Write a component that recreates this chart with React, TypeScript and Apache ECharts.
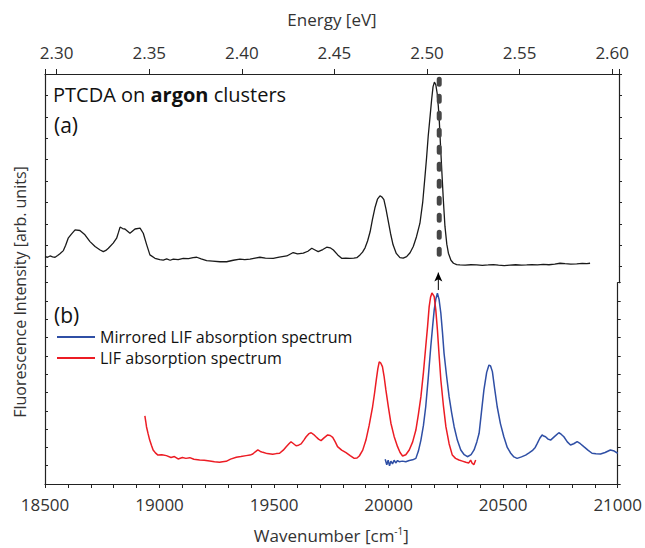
import React, { useEffect, useRef } from "react";
import * as echarts from "echarts";

const FONT = "Open Sans";
const EV_PER_WN = 1.23984e-4;
const WN_MIN = 18500;
const WN_MAX = 21000;

// (a) fluorescence spectrum (wavenumber, arb. units)
const fluorescence: number[][] = [
  [18500,0.47],[18511,0.44],[18522,0.50],[18533,0.46],[18544,0.44],[18555,0.52],[18565,0.60],[18580,0.75],[18590,1.0],[18601,1.33],
  [18615,1.52],[18631,1.72],[18652,1.69],[18674,1.49],[18696,1.17],[18718,0.94],[18740,0.78],[18754,0.70],[18765,0.76],[18776,0.86],
  [18797,1.10],[18812,1.33],[18820,1.6],[18827,1.85],[18838,1.78],[18848,1.76],[18870,1.56],[18892,1.76],[18914,1.80],[18928,1.56],
  [18943,1.02],[18957,0.55],[18979,0.39],[19000,0.33],[19015,0.31],[19030,0.36],[19045,0.30],[19059,0.35],[19080,0.33],[19102,0.39],
  [19125,0.38],[19145,0.42],[19161,0.44],[19180,0.36],[19204,0.28],[19230,0.26],[19262,0.23],[19291,0.23],[19320,0.30],[19349,0.35],
  [19370,0.33],[19393,0.35],[19415,0.40],[19436,0.44],[19460,0.40],[19494,0.39],[19520,0.45],[19553,0.50],[19581,0.66],[19600,0.60],
  [19625,0.63],[19645,0.72],[19662,0.86],[19676,0.78],[19690,0.70],[19710,0.80],[19727,0.91],[19742,0.88],[19756,0.78],[19775,0.55],
  [19792,0.39],[19810,0.40],[19828,0.39],[19845,0.40],[19858,0.42],[19872,0.55],[19883,0.68],[19894,0.88],[19905,1.2],[19916,1.63],
  [19926,2.2],[19937,2.75],[19948,3.15],[19959,3.31],[19968,3.25],[19976,3.13],[19985,2.7],[19994,2.19],[20005,1.55],[20016,1.02],
  [20030,0.62],[20046,0.42],[20060,0.40],[20075,0.47],[20090,0.65],[20104,0.94],[20118,1.4],[20133,2.03],[20145,3.0],[20155,4.22],
  [20162,5.1],[20169,6.09],[20177,7.0],[20184,7.81],[20190,8.4],[20196,8.62],[20202,8.5],[20208,8.1],[20213,7.5],[20217,6.88],
  [20222,5.8],[20228,4.53],[20235,3.1],[20242,1.88],[20250,1.05],[20257,0.63],[20268,0.30],[20279,0.16],[20293,0.10],[20307,0.08],
  [20330,0.07],[20355,0.09],[20380,0.08],[20405,0.06],[20430,0.08],[20453,0.10],[20475,0.07],[20500,0.05],[20525,0.07],[20550,0.09],
  [20575,0.07],[20598,0.08],[20620,0.10],[20645,0.08],[20670,0.11],[20695,0.09],[20720,0.12],[20743,0.16],[20765,0.14],[20790,0.12],
  [20816,0.13],[20840,0.15],[20860,0.14],[20874,0.16],
];

// (b) mirrored LIF absorption spectrum
const mirroredLIF: number[][] = [
  [19985,1.35],[19992,1.05],[19998,1.3],[20004,1.0],[20010,1.25],[20017,1.1],[20024,1.3],[20031,1.15],[20039,1.28],[20046,1.22],
  [20060,1.25],[20075,1.22],[20090,1.28],[20105,1.32],[20119,1.40],[20130,1.8],[20141,2.40],[20152,3.2],[20162,4.22],[20173,5.8],
  [20184,7.50],[20192,8.6],[20199,9.51],[20206,10.1],[20213,10.42],[20220,10.1],[20228,9.33],[20235,8.3],[20242,7.14],[20253,5.9],
  [20264,4.77],[20275,3.9],[20286,3.13],[20300,2.4],[20315,1.86],[20330,1.6],[20344,1.49],[20360,1.6],[20373,1.86],[20385,2.3],
  [20395,2.77],[20405,3.9],[20416,5.14],[20428,6.1],[20438,6.50],[20445,6.45],[20453,6.14],[20463,5.2],[20474,4.22],[20488,3.3],
  [20503,2.58],[20518,2.0],[20533,1.68],[20547,1.48],[20561,1.40],[20580,1.48],[20598,1.58],[20613,1.70],[20627,1.82],[20640,2.0],
  [20649,2.22],[20660,2.5],[20670,2.68],[20677,2.62],[20685,2.58],[20696,2.45],[20707,2.40],[20725,2.6],[20743,2.80],[20753,2.72],
  [20765,2.58],[20780,2.3],[20794,2.13],[20808,2.2],[20823,2.31],[20837,2.2],[20852,2.04],[20870,1.85],[20888,1.68],[20905,1.65],
  [20925,1.64],[20945,1.72],[20968,1.86],[20985,1.80],[21000,1.68],
];

// (b) LIF absorption spectrum
const lifAbsorption: number[][] = [
  [18936,3.72],[18940,3.40],[18943,3.13],[18950,2.75],[18957,2.40],[18965,2.1],[18972,1.86],[18982,1.70],[18993,1.58],[19010,1.60],
  [19030,1.55],[19050,1.45],[19065,1.50],[19081,1.37],[19100,1.45],[19115,1.40],[19132,1.44],[19150,1.35],[19175,1.31],[19195,1.30],
  [19219,1.26],[19240,1.22],[19262,1.19],[19275,1.22],[19291,1.24],[19310,1.36],[19335,1.46],[19355,1.50],[19378,1.55],[19395,1.58],
  [19407,1.64],[19418,1.76],[19429,1.86],[19440,1.78],[19451,1.73],[19470,1.66],[19494,1.62],[19510,1.66],[19524,1.68],[19540,1.85],
  [19553,2.04],[19565,2.2],[19574,2.31],[19585,2.2],[19596,2.09],[19607,2.12],[19618,2.19],[19630,2.4],[19640,2.58],[19652,2.75],
  [19662,2.80],[19673,2.70],[19683,2.58],[19694,2.45],[19705,2.37],[19718,2.52],[19734,2.68],[19745,2.65],[19756,2.55],[19767,2.3],
  [19777,2.04],[19795,1.85],[19814,1.71],[19832,1.55],[19850,1.40],[19862,1.42],[19872,1.53],[19887,1.85],[19901,2.40],[19915,3.2],
  [19930,4.22],[19939,5.0],[19946,5.68],[19953,6.3],[19959,6.67],[19966,6.6],[19973,6.41],[19980,5.9],[19988,5.14],[19999,4.2],
  [20010,3.32],[20024,2.6],[20039,2.04],[20050,1.72],[20061,1.53],[20075,1.60],[20090,1.86],[20105,2.3],[20119,2.95],[20130,3.8],
  [20141,4.77],[20152,6.1],[20162,7.50],[20170,8.6],[20177,9.69],[20183,10.2],[20189,10.44],[20194,10.35],[20199,10.24],[20206,9.5],
  [20213,8.42],[20220,7.1],[20228,5.68],[20239,4.3],[20250,3.13],[20264,2.2],[20278,1.58],[20292,1.40],[20307,1.31],[20322,1.25],
  [20337,1.19],[20350,1.15],[20358,1.30],[20365,1.13],[20372,1.05],[20380,1.31],
];

// guide line (dashed) in panel (a) and arrow between panels
const guideWn = 20217;
const guideLine: number[][] = [[guideWn, 8.75], [guideWn, 0.17]];
const arrowLine: number[][] = [[guideWn, 10.6], [guideWn, 11.55]];

const SERIES_NAMES = ["Mirrored LIF absorption spectrum", "LIF absorption spectrum"];

export default function App() {
  const ref = useRef<HTMLDivElement>(null);
  useEffect(() => {
    if (!ref.current) return;
    const chart = echarts.init(ref.current, undefined, { renderer: "svg" });
    const axisColor = "#222";
    const labelColor = "#333";
    const L = 45, R = 26;
    const gridA = { left: L, right: R, top: 74, height: 192.67 };
    const gridC = { left: L, right: R, top: 266.67, height: 16 };
    const gridB = { left: L, right: R, top: 282.67, height: 201.33 };
    const hiddenX = (gi: number) => ({
      type: "value", gridIndex: gi, min: WN_MIN, max: WN_MAX, show: false,
      axisLine: { show: false, onZero: false },
    });
    const yBase = (gi: number, pos: string, max: number, ticks: boolean, inside: boolean) => ({
      type: "value", gridIndex: gi, position: pos, min: 0, max, interval: 1,
      axisLine: { show: true, onZero: false, lineStyle: { color: axisColor, width: 1.2 } },
      axisTick: { show: ticks, inside, length: 3, lineStyle: { color: axisColor } },
      axisLabel: { show: false }, splitLine: { show: false },
    });
    const option: any = {
      animation: false,
      backgroundColor: "#fff",
      textStyle: { fontFamily: FONT },
      grid: [gridA, gridC, gridB],
      xAxis: [
        hiddenX(0),
        {
          type: "value", gridIndex: 0, position: "top",
          min: WN_MIN * EV_PER_WN, max: WN_MAX * EV_PER_WN, splitNumber: 6,
          axisLine: { show: true, onZero: false, lineStyle: { color: axisColor, width: 1.2 } },
          axisTick: { show: true, inside: false, length: 5, lineStyle: { color: axisColor } },
          axisLabel: {
            show: true, margin: 13, color: labelColor, fontSize: 17, fontFamily: FONT,
            formatter: (v: number) => {
              const k = v / 0.05;
              return Math.abs(k - Math.round(k)) < 1e-6 ? v.toFixed(2) : "";
            },
          },
          splitLine: { show: false },
          name: "Energy [eV]", nameLocation: "middle", nameGap: 46,
          nameTextStyle: { fontSize: 17, color: labelColor, fontFamily: FONT },
        },
        hiddenX(1),
        {
          type: "value", gridIndex: 2, position: "bottom", min: WN_MIN, max: WN_MAX, interval: 500,
          axisLine: { show: true, onZero: false, lineStyle: { color: axisColor, width: 1.2 } },
          axisTick: { show: true, inside: false, length: 4, lineStyle: { color: axisColor } },
          minorTick: { show: true, splitNumber: 5, length: 4, lineStyle: { color: axisColor } },
          axisLabel: {
            show: true, margin: 12, color: labelColor, fontSize: 17, fontFamily: FONT,
            formatter: (v: number) => String(v),
          },
          splitLine: { show: false },
          name: "{t|Wavenumber [cm}{s|-1}{t|]}", nameLocation: "middle", nameGap: 42,
          nameTextStyle: {
            color: labelColor,
            rich: {
              t: { fontSize: 17, fontFamily: FONT, color: labelColor },
              s: { fontSize: 10, fontFamily: FONT, color: labelColor, verticalAlign: "top", padding: [0, 0, 8, 0] },
            },
          },
        },
      ],
      yAxis: [
        yBase(0, "left", 9, true, true),
        yBase(0, "right", 9, true, false),
        yBase(1, "left", 1, false, true),
        yBase(1, "right", 1, false, false),
        yBase(2, "left", 11, true, true),
        yBase(2, "right", 11, true, false),
      ],
      legend: {
        orient: "vertical", left: 57, top: 329, itemGap: 5, padding: 0,
        itemWidth: 38, itemHeight: 2, icon: "rect",
        data: SERIES_NAMES,
        textStyle: { fontSize: 16, fontFamily: FONT, color: "#111", lineHeight: 15 },
      },
      series: [
        {
          name: "Fluorescence", type: "line", xAxisIndex: 0, yAxisIndex: 0,
          data: fluorescence, showSymbol: false, symbol: "none", clip: false,
          lineStyle: { color: "#1a1a1a", width: 1.3 },
        },
        {
          name: "guide", type: "line", xAxisIndex: 0, yAxisIndex: 0,
          data: guideLine, showSymbol: false, symbol: "none", clip: false,
          lineStyle: { color: "#464646", width: 5, type: [5, 12], cap: "round" },
          z: 3,
        },
        {
          name: SERIES_NAMES[0], type: "line", xAxisIndex: 3, yAxisIndex: 4,
          data: mirroredLIF, showSymbol: false, symbol: "none", clip: false,
          lineStyle: { color: "#2f4fa5", width: 1.5 }, itemStyle: { color: "#2f4fa5" },
        },
        {
          name: SERIES_NAMES[1], type: "line", xAxisIndex: 3, yAxisIndex: 4,
          data: lifAbsorption, showSymbol: false, symbol: "none", clip: false,
          lineStyle: { color: "#ec1c24", width: 1.5 }, itemStyle: { color: "#ec1c24" },
        },
        {
          name: "arrow", type: "line", xAxisIndex: 3, yAxisIndex: 4, clip: false,
          data: [
            { value: arrowLine[0], symbol: "none" },
            { value: arrowLine[1], symbol: "arrow", symbolSize: [6, 9] },
          ],
          showSymbol: true,
          lineStyle: { color: "#000", width: 1 }, itemStyle: { color: "#000" },
          z: 4,
        },
      ],
      graphic: [
        {
          type: "text", left: 53, top: 84,
          style: {
            text: "{n|PTCDA on }{b|argon}{n| clusters}",
            rich: {
              n: { fontSize: 20, fontFamily: FONT, fill: "#111" },
              b: { fontSize: 20, fontFamily: FONT, fontWeight: "bold", fill: "#111" },
            },
          },
        },
        {
          type: "text", left: 54, top: 114,
          style: { text: "(a)", fontSize: 21, fontFamily: FONT, fill: "#111" },
        },
        {
          type: "text", left: 54, top: 304,
          style: { text: "(b)", fontSize: 21, fontFamily: FONT, fill: "#111" },
        },
        {
          type: "text", x: 20, y: 292, rotation: Math.PI / 2,
          style: {
            text: "Fluorescence Intensity [arb. units]", fontSize: 16, fontFamily: FONT, fill: labelColor,
            align: "center", verticalAlign: "middle", textAlign: "center", textVerticalAlign: "middle",
          },
        },
      ],
    };
    chart.setOption(option);
    return () => chart.dispose();
  }, []);
  return (
    <div
      ref={ref}
      style={{ position: "fixed", left: 0, top: 0, width: 645, height: 548, background: "#fff" }}
    />
  );
}
